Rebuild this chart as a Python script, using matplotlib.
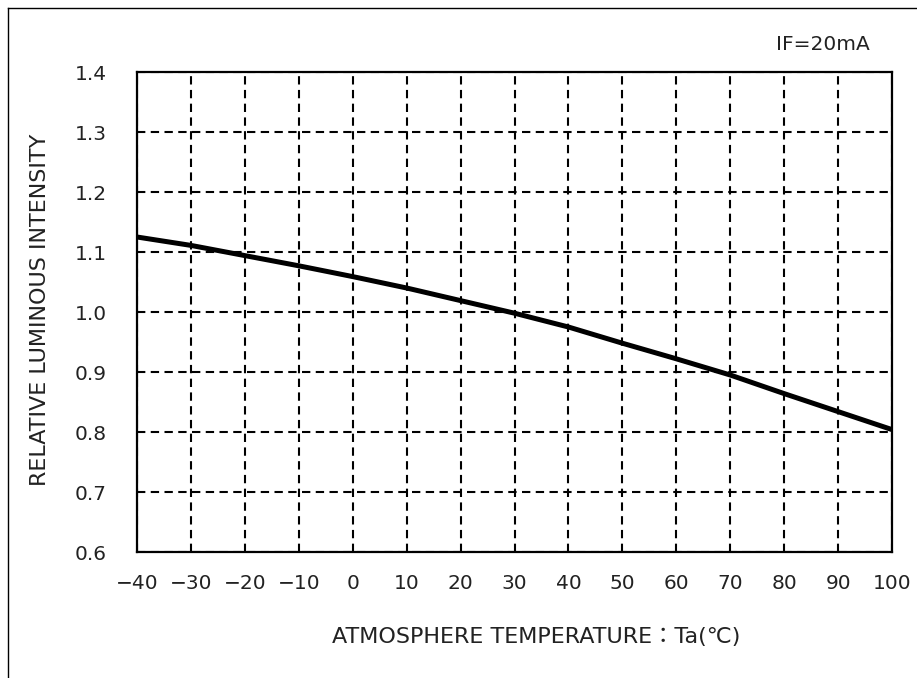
import matplotlib
matplotlib.use("Agg")
import matplotlib.pyplot as plt
from matplotlib.lines import Line2D

# data
temps = [-40, -30, -20, -10, 0, 10, 20, 30, 40, 50, 60, 70, 80, 90, 100]
rel_intensity = [1.125, 1.111, 1.094, 1.077, 1.059, 1.040, 1.019, 0.998,
                 0.975, 0.948, 0.922, 0.895, 0.864, 0.834, 0.804]

x_ticks = list(range(-40, 101, 10))
y_ticks = [0.6, 0.7, 0.8, 0.9, 1.0, 1.1, 1.2, 1.3, 1.4]

plt.rcParams['font.family'] = ['DejaVu Sans', 'Noto Sans CJK JP']

W, H = 917, 678
fig = plt.figure(figsize=(W / 100, H / 100), dpi=100)

# outer frame (only left and top edges are visible in the crop)
fig.add_artist(Line2D([8 / W, 8 / W], [0, 1 - 8 / H], color="black", lw=1.0))
fig.add_artist(Line2D([8 / W, 1], [1 - 8 / H, 1 - 8 / H], color="black", lw=1.0))

ax = fig.add_axes([137 / W, 1 - 552 / H, (892 - 137) / W, (552 - 72) / H])

ax.plot(temps, rel_intensity, color="black", lw=3.6, solid_capstyle="butt")

ax.set_xlim(-40, 100)
ax.set_ylim(0.6, 1.4)
ax.set_xticks(x_ticks)
ax.set_yticks(y_ticks)
ax.set_yticklabels([f"{v:.1f}" for v in y_ticks])

ax.grid(True, color="black", lw=1.5, linestyle=(0, (4, 2.6)))
ax.tick_params(length=0, labelsize=14.5, colors="#222222")
ax.tick_params(axis="y", pad=22)
ax.tick_params(axis="x", pad=16)
for s in ax.spines.values():
    s.set_linewidth(1.6)
    s.set_color("black")

fig.text(40 / W, 1 - 310 / H, "RELATIVE LUMINOUS INTENSITY", rotation=90,
         ha="center", va="center", fontsize=16, color="#222222")
fig.text(536 / W, 1 - 637 / H, "ATMOSPHERE TEMPERATURE：Ta(℃)",
         ha="center", va="center", fontsize=16, color="#222222")
fig.text(870 / W, 1 - 45 / H, "IF=20mA", ha="right", va="center",
         fontsize=14.5, color="#222222")

fig.savefig("out.png", dpi=100)
